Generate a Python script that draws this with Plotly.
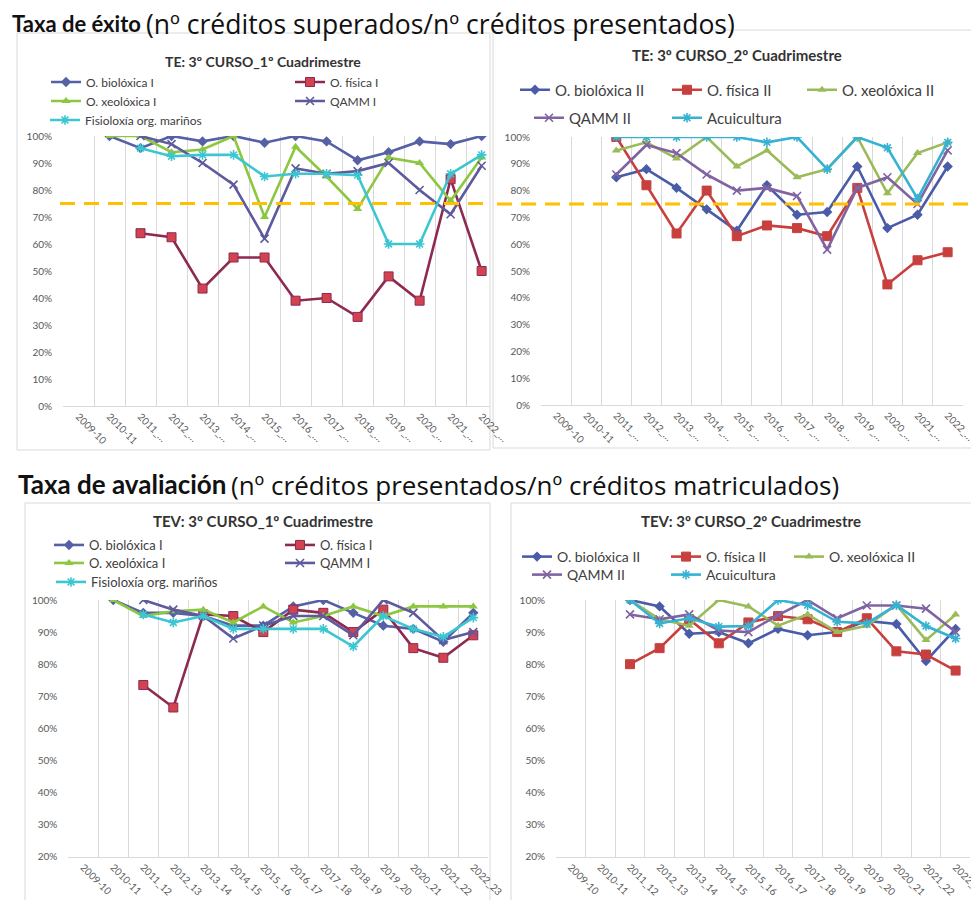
import plotly.graph_objects as go
from plotly.subplots import make_subplots

W, H = 971, 900

# cursos académicos (eixo x)
years = ["2009-10", "2010-11", "2011_12", "2012_13", "2013_14", "2014_15", "2015_16",
         "2016_17", "2017_18", "2018_19", "2019_20", "2020_21", "2021_22", "2022_23"]
years_short = ["2009-10", "2010-11", "2011_…", "2012_…", "2013_…", "2014_…", "2015_…",
               "2016_…", "2017_…", "2018_…", "2019_…", "2020_…", "2021_…", "2022_…"]

# Taxa de éxito - 1º cuadrimestre
te1_biolox = [None, 1.00, 0.955, 1.00, 0.98, 1.00, 0.975, 1.00, 0.98, 0.91, 0.94, 0.98, 0.97, 1.00]
te1_fisica = [None, None, 0.64, 0.625, 0.435, 0.55, 0.55, 0.39, 0.40, 0.33, 0.48, 0.39, 0.84, 0.50]
te1_xeolox = [None, 1.00, 1.00, 0.94, 0.95, 1.00, 0.70, 0.96, 0.85, 0.73, 0.92, 0.90, 0.76, 0.92]
te1_qamm = [None, None, 1.00, 0.97, 0.90, 0.82, 0.62, 0.88, 0.86, 0.87, 0.90, 0.80, 0.71, 0.89]
te1_fisiol = [None, None, 0.955, 0.925, 0.93, 0.93, 0.85, 0.86, 0.86, 0.855, 0.60, 0.60, 0.86, 0.93]

# Taxa de éxito - 2º cuadrimestre
te2_biolox = [None, None, 0.85, 0.88, 0.81, 0.73, 0.65, 0.82, 0.71, 0.72, 0.89, 0.66, 0.71, 0.89]
te2_fisica = [None, None, 1.00, 0.82, 0.64, 0.80, 0.63, 0.67, 0.66, 0.63, 0.81, 0.45, 0.54, 0.57]
te2_xeolox = [None, None, 0.95, 0.98, 0.92, 1.00, 0.89, 0.95, 0.85, 0.88, 1.00, 0.79, 0.94, 0.98]
te2_qamm = [None, None, 0.86, 0.97, 0.94, 0.86, 0.80, 0.81, 0.78, 0.58, 0.81, 0.85, 0.75, 0.95]
te2_acui = [None, None, 1.00, 1.00, 1.00, 1.00, 1.00, 0.98, 1.00, 0.88, 1.00, 0.96, 0.77, 0.98]

# Taxa de avaliación - 1º cuadrimestre
tev1_biolox = [None, 1.00, 0.96, 0.96, 0.95, 0.92, 0.92, 0.98, 1.00, 0.96, 0.92, 0.91, 0.87, 0.96]
tev1_fisica = [None, None, 0.735, 0.665, 0.955, 0.95, 0.90, 0.97, 0.96, 0.90, 0.97, 0.85, 0.82, 0.89]
tev1_xeolox = [None, 1.00, 0.95, 0.965, 0.97, 0.93, 0.98, 0.93, 0.95, 0.98, 0.95, 0.98, 0.98, 0.98]
tev1_qamm = [None, None, 1.00, 0.97, 0.95, 0.88, 0.92, 0.95, 0.95, 0.89, 1.00, 0.96, 0.875, 0.90]
tev1_fisiol = [None, None, 0.955, 0.93, 0.95, 0.91, 0.91, 0.91, 0.91, 0.855, 0.95, 0.91, 0.885, 0.945]

# Taxa de avaliación - 2º cuadrimestre
tev2_biolox = [None, None, 1.00, 0.98, 0.895, 0.90, 0.865, 0.91, 0.89, 0.90, 0.935, 0.925, 0.81, 0.91]
tev2_fisica = [None, None, 0.80, 0.85, 0.94, 0.865, 0.93, 0.95, 0.94, 0.90, 0.943, 0.84, 0.83, 0.78]
tev2_xeolox = [None, None, 1.00, 0.94, 0.92, 1.00, 0.98, 0.92, 0.955, 0.90, 0.92, 0.985, 0.875, 0.955]
tev2_qamm = [None, None, 0.955, 0.94, 0.955, 0.905, 0.90, 0.953, 1.00, 0.943, 0.983, 0.983, 0.973, 0.90]
tev2_acui = [None, None, 1.00, 0.927, 0.943, 0.917, 0.919, 1.00, 0.984, 0.932, 0.927, 0.984, 0.919, 0.88]

obxectivo = 0.75  # liña de referencia (taxa de éxito)

names_1 = ["O. biolóxica I", "O. física I", "O. xeolóxica I", "QAMM I", "Fisioloxía org. mariños"]
names_2 = ["O. biolóxica II", "O. física II", "O. xeolóxica II", "QAMM II", "Acuicultura"]

# estilos (cor liña, símbolo, cor marcador)
style_1 = [("#5660A6", "diamond", "#5660A6"),
           ("#8C2A52", "square", "#D2424F"),
           ("#8DC63F", "triangle-up", "#8DC63F"),
           ("#5E5A9E", "x-thin", "#5E5A9E"),
           ("#3CC6D2", "asterisk", "#3CC6D2")]
style_2 = [("#4A5CA8", "diamond", "#4A5CA8"),
           ("#C8403E", "square", "#C8403E"),
           ("#9BBB59", "triangle-up", "#9BBB59"),
           ("#8064A2", "x-thin", "#8064A2"),
           ("#36B2D2", "asterisk", "#36B2D2")]


def px_x(v):
    return v / W


def px_y(v):
    return 1 - v / H


charts = [
    dict(row=1, col=1, x=years_short, names=names_1, style=style_1,
         data=[te1_biolox, te1_fisica, te1_xeolox, te1_qamm, te1_fisiol],
         title="TE: 3º CURSO_1º Cuadrimestre", tpos=(263, 61), tsize=14,
         xdom=(63, 490), ydom=(136, 406), xr=(-0.5, 13.27), yr=(0, 1.0),
         leg=[(87, 82), (331, 82), (87, 101), (331, 101), (86, 120)], lsize=12),
    dict(row=1, col=2, x=years_short, names=names_2, style=style_2,
         data=[te2_biolox, te2_fisica, te2_xeolox, te2_qamm, te2_acui],
         title="TE: 3º CURSO_2º Cuadrimestre", tpos=(737, 55), tsize=15,
         xdom=(541, 962.7), ydom=(137, 405), xr=(-0.5, 13.5), yr=(0, 1.0),
         leg=[(556, 90), (708, 90), (843, 90), (570, 118), (708, 118)], lsize=15),
    dict(row=2, col=1, x=years, names=names_1, style=style_1,
         data=[tev1_biolox, tev1_fisica, tev1_xeolox, tev1_qamm, tev1_fisiol],
         title="TEV: 3º CURSO_1º Cuadrimestre", tpos=(263, 521), tsize=15,
         xdom=(68.3, 488.3), ydom=(600, 856.7), xr=(-0.5, 13.5), yr=(0.2, 1.0),
         leg=[(90, 545), (321, 545), (90, 563), (321, 563), (92, 582)], lsize=13),
    dict(row=2, col=2, x=years, names=names_2, style=style_2,
         data=[tev2_biolox, tev2_fisica, tev2_xeolox, tev2_qamm, tev2_acui],
         title="TEV: 3º CURSO_2º Cuadrimestre", tpos=(751, 521), tsize=15,
         xdom=(556, 970.4), ydom=(600, 856.7), xr=(-0.5, 13.5), yr=(0.2, 1.0),
         leg=[(558, 557), (707, 557), (830, 557), (568, 575), (707, 575)], lsize=14),
]

fig = make_subplots(rows=2, cols=2)

legends = {}
k = 0
for i, ch in enumerate(charts):
    for name, vals, (lc, sym, mc) in zip(ch["names"], ch["data"], ch["style"]):
        k += 1
        lid = "legend" if k == 1 else f"legend{k}"
        if sym in ("x-thin", "asterisk"):
            marker = dict(symbol=sym, size=8, color=mc, line=dict(color=mc, width=1.6))
        elif sym == "square":
            marker = dict(symbol=sym, size=9, color=mc, line=dict(color=lc, width=1))
        else:
            marker = dict(symbol=sym, size=8, color=mc)
        fig.add_trace(go.Scatter(
            x=ch["x"], y=vals, name=name, mode="lines+markers",
            line=dict(color=lc, width=2.6), marker=marker,
            legend=lid, hoverinfo="skip"
        ), row=ch["row"], col=ch["col"])
        tx, ty = ch["leg"][ch["names"].index(name)]
        legends[lid] = dict(
            x=px_x(tx - 41), y=px_y(ty), xanchor="left", yanchor="middle",
            orientation="h", bgcolor="rgba(0,0,0,0)", borderwidth=0,
            font=dict(family="Lato", size=ch["lsize"], color="#404040"),
        )

    n = "" if i == 0 else str(i + 1)
    fig.layout["xaxis" + n].update(
        domain=[px_x(ch["xdom"][0]), px_x(ch["xdom"][1])],
        type="category", categoryorder="array", categoryarray=ch["x"],
        range=list(ch["xr"]), tickson="boundaries",
        showgrid=True, gridcolor="#D9D9D9", gridwidth=1,
        showline=True, linecolor="#D9D9D9", linewidth=1,
        ticks="", tickangle=45, ticklabelstandoff=0, automargin=False,
        tickfont=dict(family="Lato", size=10, color="#595959"),
        zeroline=False, fixedrange=True,
    )
    fig.layout["yaxis" + n].update(
        domain=[px_y(ch["ydom"][1]), px_y(ch["ydom"][0])],
        range=list(ch["yr"]), dtick=0.1, tickformat=".0%",
        showgrid=False, zeroline=False, showline=False,
        ticks="", ticklabelstandoff=10, automargin=False,
        tickfont=dict(family="Lato", size=10, color="#595959"),
        fixedrange=True,
    )
    fig.add_annotation(
        x=px_x(ch["tpos"][0]), y=px_y(ch["tpos"][1]), xref="paper", yref="paper",
        text=f"<b>{ch['title']}</b>", showarrow=False, xanchor="center", yanchor="middle",
        font=dict(family="Lato", size=ch["tsize"], color="#333333"),
    )

# liña de referencia 75% nas taxas de éxito
fig.add_shape(type="line", xref="paper", yref="y", x0=px_x(60), x1=px_x(490),
              y0=obxectivo, y1=obxectivo, line=dict(color="#FFC000", width=3, dash="15px,9px"))
fig.add_shape(type="line", xref="paper", yref="y2", x0=px_x(497), x1=px_x(971),
              y0=obxectivo, y1=obxectivo, line=dict(color="#FFC000", width=3, dash="15px,9px"))

# marcos dos gráficos
for x0, y0, x1, y1 in [(17, 33, 490, 450), (493, 30, 975, 448), (25, 503, 490, 905), (511, 503, 975, 905)]:
    fig.add_shape(type="rect", xref="paper", yref="paper", x0=px_x(x0), x1=px_x(x1),
                  y0=px_y(y1), y1=px_y(y0), line=dict(color="#D9D9D9", width=1), layer="below")

# cabeceiras (parte en negriña + parte normal)
headings = [
    (10, 144, 23, "Taxa de éxito", "(nº créditos superados/nº créditos presentados)", 22, 26.5),
    (16, 229, 484, "Taxa de avaliación", "(nº créditos presentados/nº créditos matriculados)", 26, 26),
]
for xb, xr_, yc, bold, rest, sb, sr in headings:
    fig.add_annotation(
        x=px_x(xb), y=px_y(yc), xref="paper", yref="paper", xanchor="left", yanchor="middle",
        text=f"<b>{bold}</b>", showarrow=False,
        font=dict(family="Lato", size=sb, color="#111111"),
    )
    fig.add_annotation(
        x=px_x(xr_), y=px_y(yc + 1), xref="paper", yref="paper", xanchor="left", yanchor="middle",
        text=rest, showarrow=False,
        font=dict(family="Open Sans", size=sr, color="#111111"),
    )

fig.update_layout(
    width=W, height=H, margin=dict(l=0, r=0, t=0, b=0, autoexpand=False),
    paper_bgcolor="white", plot_bgcolor="white",
    font=dict(family="Lato"), showlegend=True,
    **legends,
)

# sen marxe no body para que a figura ocupe a xanela enteira
fig.write_html("out.html", config={"displayModeBar": False},
               post_script="document.body.style.margin='0';")
